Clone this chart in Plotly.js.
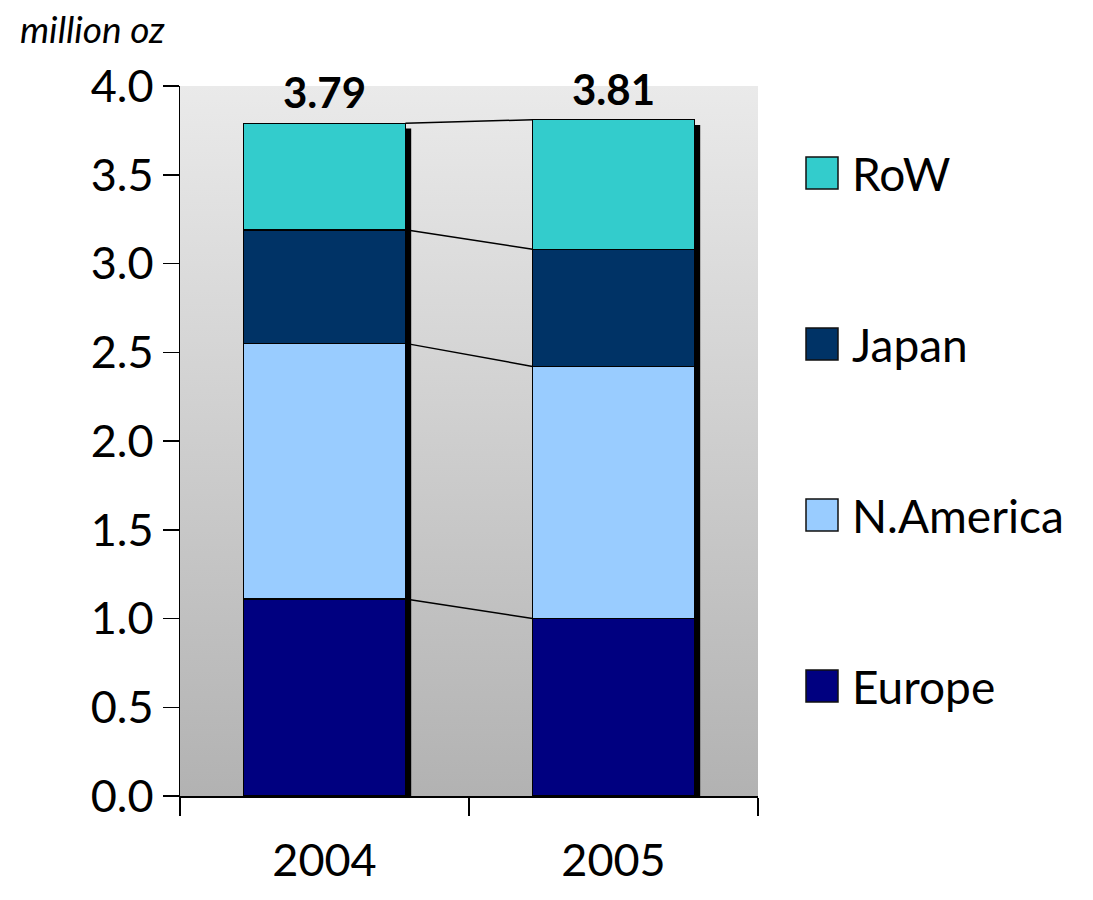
<!DOCTYPE html>
<html>
<head>
<meta charset="utf-8">
<script src="https://cdn.plot.ly/plotly-3.0.1.min.js"></script>
<style>html,body{margin:0;padding:0;background:#fff;}#chart{width:1093px;height:900px;}</style>
</head>
<body>
<div id="chart"></div>
<script>
// ---- data ----
const years = ['2004', '2005'];
const seriesNames = ['Europe', 'N.America', 'Japan', 'RoW'];
const europe = [1.11, 1.00];
const nAmerica = [1.44, 1.42];
const japan = [0.64, 0.66];
const row = [0.60, 0.73];
const totalLabels = ['3.79', '3.81'];
const yTicks = [0, 0.5, 1, 1.5, 2, 2.5, 3, 3.5, 4];

// ---- styles ----
const colors = {'Europe': '#000080', 'N.America': '#99CCFF', 'Japan': '#003366', 'RoW': '#33CCCC'};
const FONT = 'Lato, "Open Sans", "DejaVu Sans", sans-serif';
const barWidth = 0.56;
const seriesValues = [europe, nAmerica, japan, row];

const traces = seriesNames.map((name, k) => ({
  type: 'bar',
  name: name,
  x: years,
  y: seriesValues[k],
  width: barWidth,
  marker: {color: colors[name], line: {color: '#000', width: 1.5}},
  showlegend: false,
  hoverinfo: 'x+y+name'
}));

// cumulative levels
const cum = years.map((_, i) => {
  let s = 0; const out = [];
  seriesValues.forEach(v => { s += v[i]; out.push(s); });
  return out;
});
const totals = cum.map(c => c[c.length - 1]);

const shapes = [];
// shadows to the right of each bar
years.forEach((_, i) => {
  shapes.push({
    type: 'rect', xref: 'x', yref: 'y', layer: 'above',
    x0: i + barWidth / 2, x1: i + barWidth / 2 + 0.02,
    y0: 0, y1: totals[i] - 0.03,
    line: {width: 0}, fillcolor: '#000'
  });
});
// connector lines between the bars
for (let k = 0; k < seriesNames.length; k++) {
  shapes.push({
    type: 'line', xref: 'x', yref: 'y', layer: 'above',
    x0: 0 + barWidth / 2, x1: 1 - barWidth / 2,
    y0: cum[0][k], y1: cum[1][k],
    line: {color: '#000', width: 1.5}
  });
}

// custom legend (top-down: RoW, Japan, N.America, Europe)
const annotations = [];
const legendOrder = seriesNames.slice().reverse();
const legendTop = 173, legendStep = 171; // px from top of page
legendOrder.forEach((name, j) => {
  const cy = legendTop + j * legendStep;
  const yp = 1 - (cy - 86) / 710; // paper coords
  shapes.push({
    type: 'rect', xref: 'paper', yref: 'paper',
    x0: (806 - 180) / 578, x1: (838 - 180) / 578,
    y0: yp - 16 / 710, y1: yp + 16 / 710,
    fillcolor: colors[name], line: {color: '#111', width: 1.5}
  });
  annotations.push({
    xref: 'paper', yref: 'paper', x: (850 - 180) / 578, y: yp,
    xanchor: 'left', yanchor: 'middle', showarrow: false,
    text: name, font: {family: FONT, size: 46, color: '#000'}
  });
});

// total labels
years.forEach((yr, i) => {
  annotations.push({
    x: i, y: totals[i], xref: 'x', yref: 'y', yanchor: 'bottom',
    yshift: 4, showarrow: false, text: '<b>' + totalLabels[i] + '</b>',
    font: {family: FONT, size: 42, color: '#000'}
  });
});

// unit label
annotations.push({
  xref: 'paper', yref: 'paper', x: -162 / 578, y: 1 + 58 / 710,
  xanchor: 'left', yanchor: 'middle', showarrow: false,
  text: '<i>million oz</i>', font: {family: FONT, size: 37, color: '#000'}
});

const gradSvg = '<svg xmlns="http://www.w3.org/2000/svg" width="100" height="100" preserveAspectRatio="none">' +
  '<defs><linearGradient id="g" x1="0" y1="0" x2="0" y2="1">' +
  '<stop offset="0" stop-color="#eaeaea"/><stop offset="1" stop-color="#b2b2b2"/></linearGradient></defs>' +
  '<rect width="100" height="100" fill="url(#g)"/></svg>';

const layout = {
  width: 1093, height: 900,
  margin: {l: 180, r: 335, t: 86, b: 104},
  paper_bgcolor: '#fff',
  plot_bgcolor: 'rgba(0,0,0,0)',
  barmode: 'stack',
  showlegend: false,
  font: {family: FONT, size: 45, color: '#000'},
  images: [{
    source: 'data:image/svg+xml;charset=utf-8,' + encodeURIComponent(gradSvg),
    xref: 'paper', yref: 'paper', x: 0, y: 1, sizex: 1, sizey: 1,
    sizing: 'stretch', layer: 'below', xanchor: 'left', yanchor: 'top'
  }],
  xaxis: {
    type: 'category', range: [-0.5, 1.5],
    showline: true, linecolor: '#000', linewidth: 1.5,
    ticks: 'outside', tickson: 'boundaries', ticklen: 18, tickwidth: 1.5, tickcolor: '#000',
    showgrid: false, zeroline: false,
    tickfont: {family: FONT, size: 45, color: '#000'},
    ticklabelstandoff: 24
  },
  yaxis: {
    range: [0, 4], tickvals: yTicks, tickformat: '.1f',
    showline: true, linecolor: '#000', linewidth: 1.5,
    ticks: 'outside', ticklen: 16, tickwidth: 1.5, tickcolor: '#000',
    showgrid: false, zeroline: false,
    tickfont: {family: FONT, size: 45, color: '#000'}
  },
  shapes: shapes,
  annotations: annotations
};

Plotly.newPlot('chart', traces, layout, {displayModeBar: false, staticPlot: true});
</script>
</body>
</html>
